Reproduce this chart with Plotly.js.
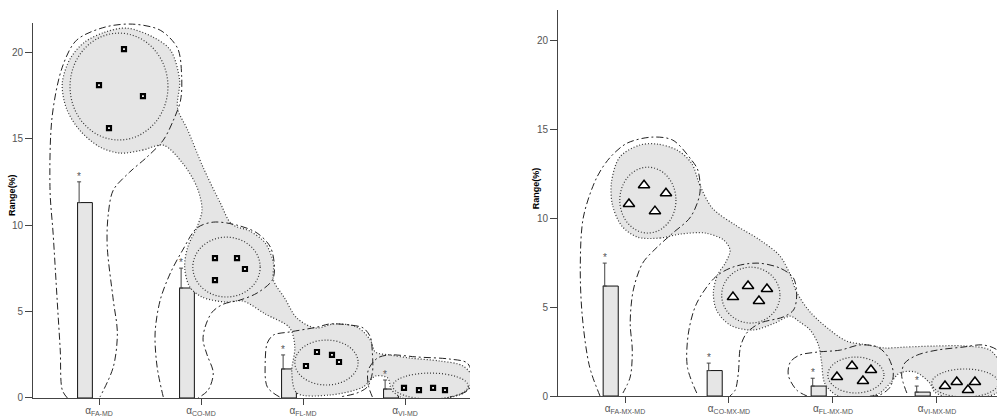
<!DOCTYPE html>
<html>
<head>
<meta charset="utf-8">
<script src="https://cdn.plot.ly/plotly-3.0.1.min.js"></script>
<style>html,body{margin:0;padding:0;background:#fff;}#chart{width:997px;height:420px;}</style>
</head>
<body>
<div id="chart"></div>
<script>
// ---------- data ----------
const catIndex = [0, 1, 2, 3];
const leftLabels = ['α<sub>FA-MD</sub>', 'α<sub>CO-MD</sub>', 'α<sub>FL-MD</sub>', 'α<sub>VI-MD</sub>'];
const rightLabels = ['α<sub>FA-MX-MD</sub>', 'α<sub>CO-MX-MD</sub>', 'α<sub>FL-MX-MD</sub>', 'α<sub>VI-MX-MD</sub>'];
const yTicks = [0, 5, 10, 15, 20];

const leftRange = [11.3, 6.36, 1.68, 0.52];
const leftErr = [1.2, 1.15, 0.81, 0.52];
const rightRange = [6.18, 1.43, 0.56, 0.22];
const rightErr = [1.29, 0.42, 0.44, 0.34];

// individual points (square markers, left; triangles, right)
const leftPtsX = [0.245, 0.0, 0.431, 0.098, 1.137, 1.353, 1.431, 1.137, 2.137, 2.284, 2.353, 2.029, 2.99, 3.137, 3.275, 3.392];
const leftPtsY = [20.17, 18.09, 17.46, 15.61, 8.09, 8.09, 7.46, 6.82, 2.66, 2.49, 2.08, 1.85, 0.58, 0.46, 0.58, 0.46];
const rightPtsX = [0.183, 0.394, 0.038, 0.288, 1.183, 1.365, 1.038, 1.288, 2.183, 2.365, 2.038, 2.288, 3.077, 3.19, 3.365, 3.298];
const rightPtsY = [11.85, 11.40, 10.79, 10.39, 6.18, 6.01, 5.56, 5.34, 1.69, 1.46, 1.07, 0.84, 0.56, 0.79, 0.79, 0.34];

// shaded density region outlines [x, y]
const leftRegion = [[0.63,14.62],[0.43,14.34],[0.21,14.16],[0.01,14.51],[-0.19,15.49],[-0.32,16.76],[-0.36,18.21],[-0.28,19.65],[-0.14,20.58],[0.06,21.16],[0.27,21.39],[0.53,20.87],[0.70,20.12],[0.79,18.38],[0.77,16.76],[0.87,15.49],[1.02,13.35],[1.19,11.27],[1.30,10.06],[1.48,9.65],[1.63,8.96],[1.71,7.80],[1.71,6.82],[1.82,5.78],[1.94,4.62],[2.12,4.05],[2.31,4.28],[2.53,4.10],[2.66,3.35],[2.71,2.66],[2.85,2.49],[3.05,2.31],[3.34,2.14],[3.57,1.85],[3.66,1.16],[3.59,0.35],[3.34,-0.06],[3.00,-0.06],[2.87,0.46],[2.83,1.16],[2.71,1.27],[2.59,0.64],[2.26,0.17],[1.94,0.29],[1.89,1.50],[1.92,2.95],[1.87,4.05],[1.63,4.86],[1.41,5.61],[1.24,5.55],[1.01,5.84],[0.89,6.42],[0.84,7.57],[0.87,8.73],[0.96,9.88],[1.01,10.87],[0.96,12.20],[0.82,13.58],[0.63,14.62]];
const rightRegion = [[0.53,9.10],[0.34,8.88],[0.12,8.93],[-0.03,9.55],[-0.12,10.73],[-0.13,12.02],[-0.05,13.43],[0.14,14.10],[0.31,14.16],[0.50,13.82],[0.64,13.09],[0.72,11.85],[0.84,10.56],[1.06,9.61],[1.30,8.76],[1.49,7.87],[1.59,6.80],[1.65,5.84],[1.78,4.72],[1.97,3.71],[2.13,3.09],[2.33,2.87],[2.50,2.70],[2.69,2.75],[2.98,2.81],[3.27,2.81],[3.51,2.58],[3.61,1.74],[3.61,0.34],[3.41,-0.11],[3.13,-0.11],[2.98,0.22],[2.93,0.73],[2.79,1.35],[2.64,1.29],[2.56,0.79],[2.45,0.17],[2.23,-0.11],[2.03,0.06],[1.92,0.73],[1.89,1.91],[1.86,2.87],[1.78,3.71],[1.68,4.16],[1.59,4.49],[1.44,4.10],[1.23,3.71],[1.01,3.99],[0.88,4.83],[0.85,5.84],[0.89,6.80],[0.97,7.53],[1.01,8.20],[0.95,8.76],[0.77,9.16],[0.53,9.10]];

// inner dotted rings [cx, cy, rx, ry]
const leftRings = [[0.196,18.01,0.48,3.09],[1.25,7.57,0.33,1.73],[2.23,2.05,0.31,1.30],[3.25,0.69,0.37,0.75]];
const rightRings = [[0.22,11.01,0.27,1.85],[1.21,5.67,0.28,1.57],[2.22,1.18,0.27,1.01],[3.27,0.73,0.32,0.79]];

// dash-dot group outlines
const leftLoopFA = [[-0.31,0],[-0.36,0.46],[-0.38,2.77],[-0.41,5.66],[-0.45,9.54],[-0.48,12.02],[-0.46,16.24],[-0.36,19.13],[-0.22,20.69],[0.06,21.45],[0.33,21.62],[0.60,21.27],[0.77,20.23],[0.81,18.67],[0.80,17.23],[0.73,16.07],[0.63,14.91],[0.47,13.93],[0.30,13.06],[0.14,12.02],[0.09,10.58],[0.08,8.84],[0.14,5.66],[0.18,3.76],[0.14,1.79],[0.01,0.06]];
const leftLoopCO = [[0.63,0.06],[0.57,1.79],[0.55,3.76],[0.60,5.66],[0.70,7.23],[0.82,8.55],[0.96,9.83],[1.12,10.17],[1.35,10.0],[1.55,9.54],[1.68,8.73],[1.72,7.57],[1.70,6.82],[1.55,6.07],[1.38,5.66],[1.22,5.43],[1.11,4.97],[1.04,4.10],[1.02,3.35],[1.06,2.49],[1.12,1.45],[1.07,0.46],[0.97,0]];
const leftLoopFL = [[1.77,0.06],[1.65,0.64],[1.63,2.20],[1.65,3.18],[1.71,3.64],[1.87,3.82],[2.14,4.10],[2.26,4.28],[2.46,4.22],[2.59,4.05],[2.66,3.53],[2.68,2.60],[2.68,1.45],[2.63,0.64],[2.53,0.29],[2.36,0.06]];
const leftLoopVI = [[2.68,0.06],[2.64,0.75],[2.64,1.62],[2.73,2.31],[2.85,2.49],[3.12,2.37],[3.44,2.25],[3.61,2.02],[3.66,1.21],[3.62,0.46],[3.44,0.06]];
const rightLoopFA = [[-0.24,0],[-0.34,1.63],[-0.41,4.44],[-0.43,7.25],[-0.40,10.06],[-0.27,12.30],[-0.14,13.43],[0.02,14.21],[0.26,14.55],[0.46,14.38],[0.64,13.26],[0.70,12.70],[0.72,11.40],[0.63,10.06],[0.46,9.16],[0.31,8.37],[0.17,7.47],[0.08,5.96],[0.05,4.10],[0.07,2.58],[0.05,1.07],[-0.02,0.17]];
const rightLoopCO = [[0.69,0.17],[0.60,1.63],[0.61,3.54],[0.69,5.22],[0.87,6.69],[1.04,7.25],[1.27,7.47],[1.49,7.19],[1.62,6.63],[1.65,5.56],[1.62,4.83],[1.52,4.44],[1.30,4.10],[1.17,3.54],[1.11,2.75],[1.09,1.29],[1.06,0.34],[1.01,0]];
const rightLoopFL = [[1.75,0],[1.65,0.34],[1.57,1.18],[1.59,1.91],[1.68,2.30],[1.85,2.47],[2.07,2.58],[2.26,2.87],[2.43,2.75],[2.53,2.19],[2.58,1.29],[2.55,0.51],[2.45,0.06],[2.36,0]];
const rightLoopVI = [[2.71,0.17],[2.66,1.18],[2.69,1.85],[2.81,2.30],[3.00,2.58],[3.25,2.75],[3.44,2.87],[3.58,2.58],[3.70,1.46],[3.65,0.06]];

// ---------- styling ----------
const FONT = 'Liberation Sans, Arial, sans-serif';
const GREY_FILL = '#e5e5e5';
const DOT = '1px,2px';
const traces = [];
const shapes = [];
const annotations = [];

function addPanel(xa, ya, vals, errs, region, rings, loops, ptsX, ptsY, symbol, msize, mline) {
  // bars
  traces.push({type: 'bar', x: catIndex, y: vals, xaxis: xa, yaxis: ya,
    offset: -0.21, width: 0.145,
    marker: {color: '#e6e6e6', line: {color: '#111', width: 1}}, hoverinfo: 'skip'});
  // invisible carrier for one-sided error bars
  traces.push({type: 'bar', x: catIndex, y: vals, xaxis: xa, yaxis: ya,
    offset: -0.21, width: 0.03,
    marker: {color: 'rgba(0,0,0,0)', line: {width: 0}},
    error_y: {type: 'data', symmetric: false, array: errs, arrayminus: errs.map(() => 0),
      color: '#444', thickness: 1, width: 2}, hoverinfo: 'skip'});
  // shaded region
  traces.push({type: 'scatter', mode: 'lines', x: region.map(p => p[0]), y: region.map(p => p[1]),
    xaxis: xa, yaxis: ya, fill: 'toself', fillcolor: GREY_FILL,
    line: {color: '#333', width: 1.2, dash: DOT, shape: 'spline', smoothing: 0.9}, hoverinfo: 'skip'});
  // dash-dot loops
  loops.forEach(l => traces.push({type: 'scatter', mode: 'lines', x: l.map(p => p[0]), y: l.map(p => p[1]),
    xaxis: xa, yaxis: ya,
    line: {color: '#222', width: 1, dash: '7px,3px,2px,3px', shape: 'spline', smoothing: 0.9}, hoverinfo: 'skip'}));
  // points
  traces.push({type: 'scatter', mode: 'markers', x: ptsX, y: ptsY, xaxis: xa, yaxis: ya, cliponaxis: false,
    marker: {symbol: symbol, size: msize, color: 'white', line: {color: '#000', width: mline}}, hoverinfo: 'skip'});
  // inner rings
  const xr = xa === 'x' ? 'x' : 'x2', yr = ya === 'y' ? 'y' : 'y2';
  rings.forEach(r => shapes.push({type: 'circle', xref: xr, yref: yr,
    x0: r[0] - r[2], x1: r[0] + r[2], y0: r[1] - r[3], y1: r[1] + r[3],
    line: {color: '#333', width: 1.2, dash: DOT}}));
  // significance stars
  catIndex.forEach(i => annotations.push({xref: xr, yref: yr, x: i, y: vals[i] + errs[i],
    text: '*', showarrow: false, xshift: -20, yshift: -2, yanchor: 'bottom',
    font: {family: FONT, size: 10, color: '#555'}}));
}

addPanel('x', 'y', leftRange, leftErr, leftRegion, leftRings,
  [leftLoopFA, leftLoopCO, leftLoopFL, leftLoopVI], leftPtsX, leftPtsY, 'square', 4, 2.2);
addPanel('x2', 'y2', rightRange, rightErr, rightRegion, rightRings,
  [rightLoopFA, rightLoopCO, rightLoopFL, rightLoopVI], rightPtsX, rightPtsY, 'triangle-up', 10, 1.5);

// y titles
annotations.push({xref: 'paper', yref: 'paper', x: 12 / 997, y: 0.536, text: '<b>Range(%)</b>',
  textangle: -90, showarrow: false, xanchor: 'center', yanchor: 'middle', font: {family: FONT, size: 9, color: '#000'}});
annotations.push({xref: 'paper', yref: 'paper', x: 536 / 997, y: 0.552, text: '<b>Range(%)</b>',
  textangle: -90, showarrow: false, xanchor: 'center', yanchor: 'middle', font: {family: FONT, size: 9, color: '#000'}});

const xBase = {showline: true, linecolor: '#444', linewidth: 1, ticks: 'outside', ticklen: 6, tickcolor: '#444',
  ticklabelstandoff: -3,
  showgrid: false, zeroline: false, tickvals: catIndex, tickfont: {family: FONT, size: 10, color: '#555'}, fixedrange: true};
const yBase = {showline: true, linecolor: '#444', linewidth: 1, ticks: 'outside', ticklen: 7, tickcolor: '#444',
  showgrid: false, zeroline: false, tickvals: yTicks, tickfont: {family: FONT, size: 10, color: '#555'}, fixedrange: true};

const layout = {
  width: 997, height: 420, margin: {l: 0, r: 0, t: 0, b: 0},
  paper_bgcolor: '#fff', plot_bgcolor: 'rgba(0,0,0,0)', showlegend: false, hovermode: false,
  barmode: 'overlay',
  xaxis: Object.assign({}, xBase, {domain: [0.0331, 0.4714], range: [-0.647, 3.637], ticktext: leftLabels, anchor: 'y'}),
  yaxis: Object.assign({}, yBase, {domain: [0.0524, 0.945], range: [0, 21.68], anchor: 'x'}),
  xaxis2: Object.assign({}, xBase, {domain: [0.5597, 1.0], range: [-0.644, 3.577], ticktext: rightLabels, anchor: 'y2'}),
  yaxis2: Object.assign({}, yBase, {domain: [0.0571, 0.976], range: [0, 21.69], anchor: 'x2'}),
  shapes: shapes, annotations: annotations,
  font: {family: FONT}
};

Plotly.newPlot('chart', traces, layout, {displayModeBar: false, staticPlot: true});
</script>
</body>
</html>
